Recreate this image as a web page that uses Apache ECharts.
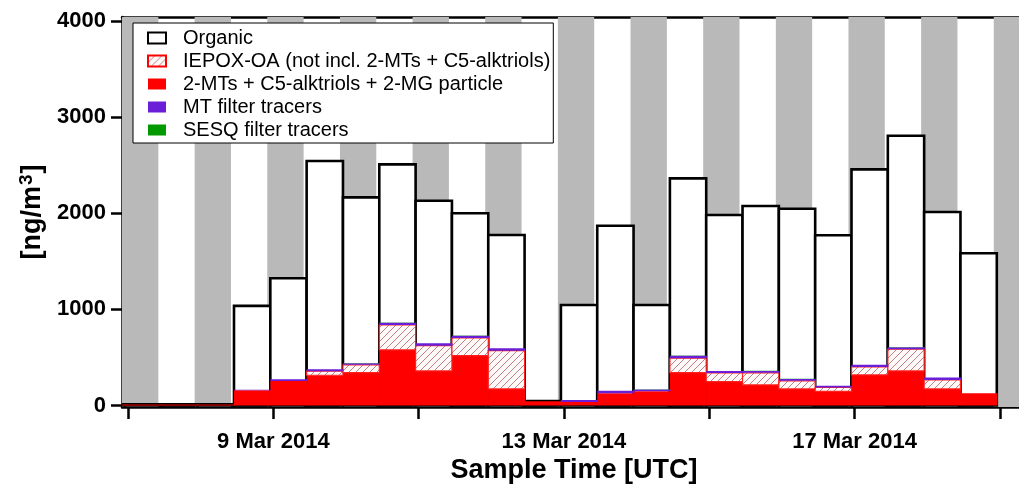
<!DOCTYPE html>
<html><head><meta charset="utf-8">
<script src="https://cdn.jsdelivr.net/npm/echarts@6/dist/echarts.min.js"></script>
<style>html,body{margin:0;padding:0;background:#fff}#c{width:1019px;height:485px}</style>
</head><body><div id="c"></div>
<script>
// ---- data ----
const sampleStart = [
  '2014-03-06 11:00','2014-03-06 23:00','2014-03-07 11:00','2014-03-07 23:00',
  '2014-03-08 11:00','2014-03-08 23:00','2014-03-09 11:00','2014-03-09 23:00',
  '2014-03-10 11:00','2014-03-10 23:00','2014-03-11 11:00','2014-03-11 23:00',
  '2014-03-12 11:00','2014-03-12 23:00','2014-03-13 11:00','2014-03-13 23:00',
  '2014-03-14 11:00','2014-03-14 23:00','2014-03-15 11:00','2014-03-15 23:00',
  '2014-03-16 11:00','2014-03-16 23:00','2014-03-17 11:00','2014-03-17 23:00',
  '2014-03-18 11:00'
];
const sampleHours = 12;
const organic = [12,12,12,12, 1036,1324,2542,2165,2508,2130,1999,1773, 48, 1046,1870,1046,2362,1981,2075,2047,1770,2456,2805,2012,1583];
const twoMTs  = [10,10,10,10, 160,255,315,343,579,360,519,173, 45, 38,129,150,343,249,215,173,148,319,360,173,128];
const iepoxOA = [0,0,0,0, 0,0,42,80,259,263,184,398, 0, 0,0,0,149,90,125,84,40,83,226,94,0];
const mtTracers   = [0,0,0,0, 4,18,20,18,24,25,24,25, 0, 20,24,18,27,20,20,20,18,21,21,24,0];
const sesqTracers = [0,0,0,0, 1,1,1,1,1,1,1,1, 0, 1,1,1,1,1,1,1,1,1,1,1,0];
const nightStart = [
  '2014-03-06 22:00','2014-03-07 22:00','2014-03-08 22:00','2014-03-09 22:00',
  '2014-03-10 22:00','2014-03-11 22:00','2014-03-12 22:00','2014-03-13 22:00',
  '2014-03-14 22:00','2014-03-15 22:00','2014-03-16 22:00','2014-03-17 22:00',
  '2014-03-18 22:00'
];
const nightHours = 12;
const xTickDates  = ['2014-03-07','2014-03-09','2014-03-11','2014-03-13','2014-03-15','2014-03-17','2014-03-19'];
const xLabelDates = ['2014-03-09','2014-03-13','2014-03-17'];
const yTicks = [0,1000,2000,3000,4000];
const xRange = ['2014-03-06 22:00','2014-03-19 06:20'];
const yRange = [-15, 4040];
const monthNames = ['Jan','Feb','Mar','Apr','May','Jun','Jul','Aug','Sep','Oct','Nov','Dec'];
const names = ['Organic','IEPOX-OA (not incl. 2-MTs + C5-alktriols)','2-MTs + C5-alktriols + 2-MG particle','MT filter tracers','SESQ filter tracers'];

function utc(s){
  const parts = s.split(' ');
  const d = parts[0].split('-').map(Number);
  const t = (parts[1] || '00:00').split(':').map(Number);
  return Date.UTC(d[0], d[1]-1, d[2], t[0], t[1]);
}
const H = 3600e3;

// hatch pattern
const tile = document.createElement('canvas');
tile.width = 7; tile.height = 7;
(function(){
  const g = tile.getContext('2d');
  g.fillStyle = '#fffafa'; g.fillRect(0,0,7,7);
  g.strokeStyle = '#c07070'; g.lineWidth = 0.9;
  g.beginPath();
  g.moveTo(-1,8); g.lineTo(8,-1);
  g.moveTo(-1,1); g.lineTo(1,-1);
  g.moveTo(6,8); g.lineTo(8,6);
  g.stroke();
})();
const hatch = {image: tile, repeat: 'repeat'};

// stacked bounds
const lo1 = twoMTs.map(() => 0);
const hi1 = twoMTs.slice();
const hi2 = hi1.map((v,i) => v + iepoxOA[i]);
const hi3 = hi2.map((v,i) => v + mtTracers[i]);
const hi4 = hi3.map((v,i) => v + sesqTracers[i]);

function layer(lo, hi){
  return sampleStart.map((s,i) => { const t = utc(s); return [t, t + sampleHours*H, lo[i], hi[i]]; });
}
function rectRender(style, pad){
  return function(params, api){
    const lo = api.value(2), hi = api.value(3);
    if (!(hi > lo)) return null;
    const p0 = api.coord([api.value(0), lo]);
    const p1 = api.coord([api.value(1), hi]);
    return {type:'rect', shape:{x:p0[0], y:p1[1], width:p1[0]-p0[0]+(pad||0), height:p0[1]-p1[1]}, style: style};
  };
}

const FONT = 'Liberation Sans, Arial, sans-serif';
const chart = echarts.init(document.getElementById('c'));
chart.setOption({
  animation: false,
  backgroundColor: '#fff',
  grid: {left: 122, right: 0, top: 17, bottom: 78, show: false, containLabel: false, outerBoundsMode: 'none'},
  legend: {
    data: names, orient: 'vertical', left: 133, top: 23,
    icon: 'rect', itemWidth: 18, itemHeight: 11, itemGap: 3,
    padding: [5, 3, 3, 14],
    backgroundColor: '#fff', borderColor: '#000', borderWidth: 1,
    textStyle: {fontFamily: FONT, fontSize: 20, color: '#000', padding: [0,0,0,12]},
    selectedMode: false, z: 10
  },
  xAxis: [{
    type: 'value', min: utc(xRange[0]), max: utc(xRange[1]),
    splitLine: {show: false},
    axisLine: {onZero: false, lineStyle: {color: '#000', width: 2.5}},
    axisTick: {length: 12, lineStyle: {color: '#000', width: 2.5}, customValues: xTickDates.map(utc)},
    axisLabel: {
      customValues: xLabelDates.map(utc), margin: 23.5,
      fontFamily: FONT, fontSize: 22, fontWeight: 'bold', color: '#000',
      formatter: v => { const d = new Date(v); return d.getUTCDate() + ' ' + monthNames[d.getUTCMonth()] + ' ' + d.getUTCFullYear(); }
    },
    name: 'Sample Time [UTC]', nameLocation: 'middle', nameGap: 43,
    nameTextStyle: {fontFamily: FONT, fontSize: 27, fontWeight: 'bold', color: '#000', padding: [0,0,0,7]}
  }, {
    type: 'value', position: 'top', min: utc(xRange[0]), max: utc(xRange[1]),
    splitLine: {show: false},
    axisLine: {onZero: false, lineStyle: {color: '#000', width: 2.5}},
    axisTick: {show: false}, axisLabel: {show: false}
  }],
  yAxis: {
    type: 'value', min: yRange[0], max: yRange[1],
    splitLine: {show: false},
    axisLine: {onZero: false, lineStyle: {color: '#000', width: 2.5}},
    axisTick: {length: 11, lineStyle: {color: '#000', width: 2.5}, customValues: yTicks},
    axisLabel: {customValues: yTicks, margin: 16, fontFamily: FONT, fontSize: 22, fontWeight: 'bold', color: '#000',
      formatter: v => String(v)},
    name: '{a|[ng/m}{s|3}{a|]}', nameLocation: 'middle', nameGap: 62,
    nameTextStyle: {fontFamily: FONT, fontSize: 27, fontWeight: 'bold', color: '#000',
      rich: {
        a: {fontFamily: FONT, fontSize: 27, fontWeight: 'bold', color: '#000', lineHeight: 30},
        s: {fontFamily: FONT, fontSize: 19, fontWeight: 'bold', color: '#000', verticalAlign: 'top', lineHeight: 30, padding: [0, 1, 0, 1]}
      }}
  },
  series: [
    {
      type: 'custom', name: 'night', clip: true, z: 1, silent: true,
      data: nightStart.map(s => [utc(s), utc(s) + nightHours*H, 0]),
      encode: {x: [0,1], y: 2},
      renderItem: function(params, api){
        const cs = params.coordSys;
        const a = api.coord([api.value(0), 0])[0];
        const b = api.coord([api.value(1), 0])[0];
        return {type:'rect', shape:{x:a, y:cs.y, width:b-a, height:cs.height}, style:{fill:'#b9b9b9'}};
      }
    },
    {
      type: 'custom', name: names[0], clip: true, z: 2,
      itemStyle: {color: '#fff', borderColor: '#000', borderWidth: 2},
      data: layer(lo1, organic), encode: {x: [0,1], y: [2,3]},
      renderItem: rectRender({fill: '#fff', stroke: '#000', lineWidth: 2.6})
    },
    {
      type: 'custom', name: names[2], clip: true, z: 3,
      itemStyle: {color: '#ff0000'},
      data: layer(lo1, hi1), encode: {x: [0,1], y: [2,3]},
      renderItem: rectRender({fill: '#ff0000'}, 0.6)
    },
    {
      type: 'custom', name: names[1], clip: true, z: 4,
      itemStyle: {color: hatch, borderColor: '#ff0000', borderWidth: 1.5},
      data: layer(hi1, hi2), encode: {x: [0,1], y: [2,3]},
      renderItem: rectRender({fill: hatch, stroke: '#ff2020', lineWidth: 1.2})
    },
    {
      type: 'custom', name: names[3], clip: true, z: 5,
      itemStyle: {color: '#6a1ed8'},
      data: layer(hi2, hi3), encode: {x: [0,1], y: [2,3]},
      renderItem: rectRender({fill: '#6a1ed8'}, 0.6)
    },
    {
      type: 'custom', name: names[4], clip: true, z: 6,
      itemStyle: {color: '#009a00'},
      data: layer(hi3, hi4), encode: {x: [0,1], y: [2,3]},
      renderItem: rectRender({fill: '#009a00'}, 0.6)
    }
  ]
});
</script></body></html>
